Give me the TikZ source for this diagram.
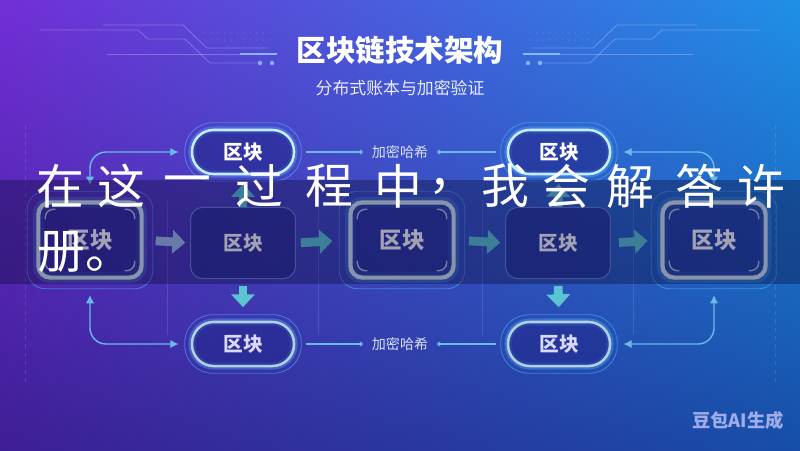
\documentclass[tikz,border=0pt]{standalone}
\usepackage{fontspec}
\newfontfamily\cjk{Noto Sans CJK SC}
\usetikzlibrary{arrows.meta, positioning, calc, shadings}

\definecolor{bgTL}{RGB}{114,46,214}
\definecolor{bgTR}{RGB}{30,144,230}
\definecolor{bgBL}{RGB}{62,30,150}
\definecolor{bgBR}{RGB}{22,78,168}
\definecolor{cellfill}{RGB}{34,40,140}
\definecolor{pillrim}{RGB}{200,236,255}
\definecolor{pillrimlow}{RGB}{180,208,224}
\definecolor{glowcyan}{RGB}{80,190,255}
\definecolor{keyrim}{RGB}{215,232,240}
\definecolor{plainrim}{RGB}{100,125,210}
\definecolor{linkblue}{RGB}{105,185,235}
\definecolor{flowteal}{RGB}{90,196,208}
\definecolor{flowslate}{RGB}{160,192,238}
\definecolor{labelgray}{RGB}{215,225,245}
\definecolor{decobar}{RGB}{150,200,255}
\definecolor{bandnavy}{RGB}{12,12,60}

\begin{document}
\begin{tikzpicture}[
    x=0.025cm, y=-0.025cm,
    every node/.style={font=\cjk},
    titletext/.style={text=white, font=\cjk\bfseries\fontsize{21}{21}\selectfont},
    subtext/.style={text=white!92!blue, font=\cjk\fontsize{12}{12}\selectfont},
    pill/.style={rectangle, rounded corners=0.54cm, minimum width=2.55cm, minimum height=1.1cm, draw=pillrim, line width=1.8pt, fill=cellfill, fill opacity=0.6, text opacity=1, text=white, font=\cjk\bfseries\fontsize{14}{14}\selectfont, preaction={draw=glowcyan, line width=5pt, draw opacity=0.35}},
    pilllow/.style={pill, draw=pillrimlow, text=white!85!blue},
    keyblock/.style={rectangle, rounded corners=0.3cm, minimum width=2.58cm, minimum height=1.88cm, draw=keyrim, line width=3pt, fill=cellfill, fill opacity=0.55, text opacity=1, text=white, font=\cjk\bfseries\fontsize{16}{16}\selectfont, preaction={draw=glowcyan, line width=8pt, draw opacity=0.25}},
    plainblock/.style={rectangle, rounded corners=0.3cm, minimum width=2.62cm, minimum height=1.78cm, draw=plainrim, line width=0.8pt, fill=cellfill, fill opacity=0.6, text opacity=1, text=white, font=\cjk\bfseries\fontsize{14}{14}\selectfont},
    hashlabel/.style={text=labelgray, inner sep=0.12cm, font=\cjk\fontsize{10}{10}\selectfont},
    ring/.style={draw=glowcyan, line width=0.6pt, draw opacity=0.5},
    bracket/.style={draw=keyrim, line width=1pt, rounded corners=0.2cm, draw opacity=0.8},
    flow/.style={line width=0.22cm, -{Triangle[width=0.58cm, length=0.32cm]}},
    link/.style={draw=linkblue, line width=1pt, rounded corners=0.4cm, {Latex[length=6pt, width=6pt]}-{Latex[length=6pt, width=6pt]}},
    hashline/.style={draw=linkblue, line width=0.8pt, -{Circle[length=3pt]}},
    deco/.style={draw=white, line width=0.6pt, draw opacity=0.25},
    faint/.style={draw=white, line width=0.5pt, draw opacity=0.12},
    hwtext/.style={text=white, font=\cjk\fontsize{34}{34}\selectfont}
]

% background
\shade[upper left=bgTL, upper right=bgTR, lower left=bgBL, lower right=bgBR] (0,0) rectangle (800,450);
\useasboundingbox (0,0) rectangle (800,450);

% circuit lines beside the title
\foreach \s in {1,-1}{
\begin{scope}[shift={(400,0)}, xscale=\s]
  \draw[deco] (-297,25) -- (-217,25) -- (-193,48) -- (-132,48);
  \draw[deco] (-360,30) -- (-262,30) -- (-252,39) -- (-215,39) -- (-190,63) -- (-143,63);
  \draw[deco] (-293,54) -- (-160,54);
  \draw[draw=decobar, line width=1.6pt, draw opacity=0.85] (-160,54) -- (-123,54);
  \fill[decobar, opacity=0.8] (-140,63) circle (1.6pt) (-128,63) circle (1.6pt);
  \foreach \dx in {0,...,10}
    \fill[white, opacity=0.2] (-195+6.5*\dx,33) circle (0.5pt) (-195+6.5*\dx,40) circle (0.5pt);
\end{scope}}

% faint guides
\draw[faint, dashed] (25,125) -- (25,385);
\draw[faint, dashed] (775,125) -- (775,385);
\foreach \gx in {167,318,482,633}
  \draw[faint] (\gx,200) -- (\gx,335);

\node[titletext] (title) at (400,50) {区块链技术架构};
\node[subtext] (subtitle) at (400,88) {分布式账本与加密验证};

% blocks
\node[pill] (hashTopL) at (243,152) {区块};
\node[pill] (hashTopR) at (559,152) {区块};
\node[pilllow] (hashBotL) at (243,344) {区块};
\node[pilllow] (hashBotR) at (559,344) {区块};
\node[keyblock] (blkA) at (90,240) {区块};
\node[plainblock] (blkB) at (243,243) {区块};
\node[keyblock] (blkC) at (402,240) {区块};
\node[plainblock] (blkD) at (558,243) {区块};
\node[keyblock] (blkE) at (714,240) {区块};
\node[hashlabel] (hashTop) at (400,152) {加密哈希};
\node[hashlabel] (hashBot) at (400,344) {加密哈希};

% outer rings and corner marks
\foreach \n in {hashTopL,hashTopR,hashBotL,hashBotR}
  \draw[ring, rounded corners=0.7cm] ($(\n.north west)+(-6,-6)$) rectangle ($(\n.south east)+(6,6)$);
\foreach \n in {blkA,blkC,blkE}{
  \draw[ring, rounded corners=0.45cm] ($(\n.north west)+(-9,-9)$) rectangle ($(\n.south east)+(9,9)$);
  \draw[bracket] ($(\n.north west)+(9,19)$) |- ($(\n.north west)+(19,9)$);
  \draw[bracket] ($(\n.north east)+(-9,19)$) |- ($(\n.north east)+(-19,9)$);
  \draw[bracket] ($(\n.south west)+(9,-19)$) |- ($(\n.south west)+(19,-9)$);
  \draw[bracket] ($(\n.south east)+(-9,-19)$) |- ($(\n.south east)+(-19,-9)$);
}

% Connectors
\draw[flow, draw=flowslate, shorten <=0.3cm, shorten >=0.12cm] (blkA.east) -- (blkB.west);
\draw[flow, draw=flowteal, shorten <=0.12cm, shorten >=0.4cm] (blkB.east) -- (blkC.west);
\draw[flow, draw=flowteal, shorten <=0.33cm, shorten >=0.12cm] (blkC.east) -- (blkD.west);
\draw[flow, draw=flowteal, shorten <=0.2cm, shorten >=0.32cm] (blkD.east) -- (blkE.west);
\draw[flow, draw=flowteal, shorten <=0.17cm, shorten >=0.34cm] (blkB.south) -- (hashBotL.north);
\draw[flow, draw=flowteal, shorten >=0.22cm] (blkB.north) -- (hashTopL.south);
\draw[flow, draw=flowteal, shorten <=0.17cm, shorten >=0.34cm] (blkD.south) -- (hashBotR.north);
\draw[flow, draw=flowteal, shorten >=0.22cm] (blkD.north) -- (hashTopR.south);
\draw[link, shorten <=0.38cm, shorten >=0.3cm] (blkA.north) |- (hashTopL.west);
\draw[link, shorten <=0.38cm, shorten >=0.3cm] (blkA.south) |- (hashBotL.west);
\draw[link, shorten <=0.38cm, shorten >=0.3cm] (blkE.north) |- (hashTopR.east);
\draw[link, shorten <=0.38cm, shorten >=0.3cm] (blkE.south) |- (hashBotR.east);
\draw[hashline, shorten <=0.28cm, shorten >=0.1cm] (hashTopL.east) -- (hashTop.west);
\draw[hashline, shorten <=0.28cm, shorten >=0.1cm] (hashTopR.west) -- (hashTop.east);
\draw[hashline, shorten <=0.28cm, shorten >=0.1cm] (hashBotL.east) -- (hashBot.west);
\draw[hashline, shorten <=0.28cm, shorten >=0.1cm] (hashBotR.west) -- (hashBot.east);

% caption band
\fill[bandnavy, opacity=0.38] (0,180) rectangle (800,284);
\foreach \ch/\px in {在/60,这/121,一/187,过/259,程/329,中/398,，/452,我/505,会/566,解/630,答/699,许/761}
  \node[hwtext] (hw\px) at (\px,186) {\ch};
\node[hwtext, anchor=west] (hwLast) at (33,252) {册。};

\node[text=white!80!blue, text opacity=0.75, font=\cjk\bfseries\fontsize{13}{13}\selectfont] (mark) at (738,421) {豆包AI生成};

\end{tikzpicture}
\end{document}
